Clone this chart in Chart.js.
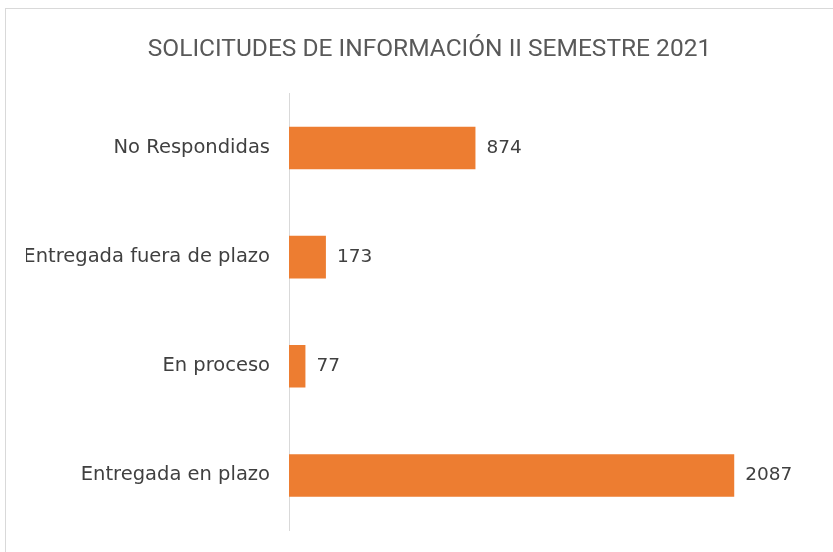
<!DOCTYPE html>
<html>
<head>
<meta charset="utf-8">
<script src="https://cdn.jsdelivr.net/npm/chart.js@4"></script>
<style>
  html, body { margin: 0; padding: 0; background: #ffffff; }
  #wrap { position: relative; width: 833px; height: 552px; overflow: hidden; }
  #frame { position: absolute; left: 5px; top: 8px; width: 840px; height: 600px; border: 1px solid #d9d9d9; box-sizing: border-box; }
  canvas { position: absolute; left: 0; top: 0; }
</style>
</head>
<body>
<div id="wrap">
  <div id="frame"></div>
  <canvas id="c" width="833" height="552"></canvas>
</div>
<script>
const titleText = "SOLICITUDES DE INFORMACIÓN II SEMESTRE 2021";
const categories = ["No Respondidas", "Entregada fuera de plazo", "En proceso", "Entregada en plazo"];
const values = [874, 173, 77, 2087];
const xMin = 0;
const xMax = 2550;

const barColor = "#ED7D31";
const textColor = "#404040";
const titleFont = "Roboto, 'DejaVu Sans', sans-serif";
const labelFont = "'DejaVu Sans', sans-serif";
const valueFont = "'DejaVu Sans', sans-serif";

const valueLabels = {
  id: 'valueLabels',
  afterDatasetsDraw(chart) {
    const ctx = chart.ctx;
    const meta = chart.getDatasetMeta(0);
    ctx.save();
    ctx.font = "18.5px " + valueFont;
    ctx.fillStyle = textColor;
    ctx.textAlign = 'left';
    ctx.textBaseline = 'middle';
    meta.data.forEach((bar, i) => {
      ctx.fillText(String(values[i]), bar.x + 11, bar.y);
    });
    ctx.restore();
  }
};

new Chart(document.getElementById('c'), {
  type: 'bar',
  data: {
    labels: categories,
    datasets: [{
      data: values,
      backgroundColor: barColor,
      borderWidth: 0,
      categoryPercentage: 1.0,
      barPercentage: 0.39
    }]
  },
  options: {
    indexAxis: 'y',
    responsive: false,
    animation: false,
    devicePixelRatio: 1,
    layout: { padding: { top: 8, bottom: 22, left: 26, right: 0 } },
    plugins: {
      legend: { display: false },
      tooltip: { enabled: false },
      title: {
        display: true,
        text: titleText,
        color: "#595959",
        font: { family: titleFont, size: 24.5, weight: 'normal' },
        padding: { top: 27, bottom: 29 }
      }
    },
    scales: {
      x: {
        display: false,
        min: xMin,
        max: xMax
      },
      y: {
        grid: { display: false, drawTicks: false },
        border: { display: true, color: "#d9d9d9", width: 1 },
        ticks: {
          color: textColor,
          padding: 19,
          font: { family: labelFont, size: 19.5 }
        },
        afterFit(scale) {
          scale.width = 263;
          scale.paddingTop = 0;
          scale.paddingBottom = 0;
        }
      }
    }
  },
  plugins: [valueLabels]
});
</script>
</body>
</html>
